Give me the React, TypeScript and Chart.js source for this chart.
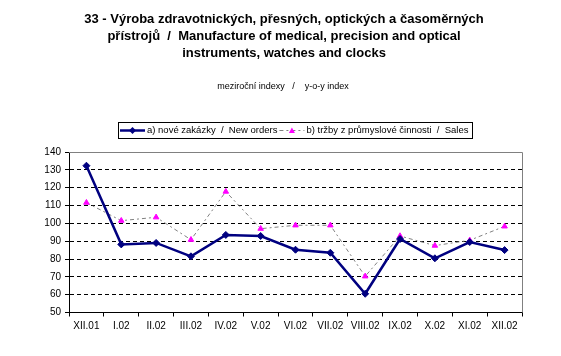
import React, { useEffect, useRef } from "react";
import { Chart, registerables } from "chart.js";

Chart.register(...registerables);

const categories = ["XII.01", "I.02", "II.02", "III.02", "IV.02", "V.02", "VI.02", "VII.02", "VIII.02", "IX.02", "X.02", "XI.02", "XII.02"];
const newOrders = [132.3, 88.2, 89.0, 81.5, 93.5, 92.9, 85.2, 83.5, 60.5, 91.2, 80.4, 89.5, 85.0];
const sales = [111.6, 101.5, 103.4, 90.8, 117.8, 97.0, 98.9, 98.9, 70.3, 92.9, 87.5, 90.5, 98.3];
const titleLines = [
  "33 - Výroba zdravotnických, přesných, optických a časoměrných",
  "přístrojů  /  Manufacture of medical, precision and optical",
  "instruments, watches and clocks",
];
const subtitleText = "meziroční indexy   /    y-o-y index";
const seriesLabels = ["a) nové zakázky  /  New orders", "b) tržby z průmyslové činnosti  /  Sales"];

const FONT = "'Liberation Sans', Arial, sans-serif";

const decorPlugin = {
  id: "decor",
  beforeDatasetsDraw(chart: any) {
    const { ctx, chartArea: a } = chart;
    ctx.save();
    ctx.strokeStyle = "#808080";
    ctx.lineWidth = 1;
    ctx.beginPath();
    ctx.moveTo(a.left, Math.round(a.top) + 0.5);
    ctx.lineTo(Math.round(a.right) + 0.5, Math.round(a.top) + 0.5);
    ctx.lineTo(Math.round(a.right) + 0.5, a.bottom);
    ctx.stroke();
    ctx.restore();
  },
  afterDraw(chart: any) {
    const { ctx, chartArea: a } = chart;
    ctx.save();
    // Title
    ctx.fillStyle = "#000";
    ctx.textAlign = "center";
    ctx.textBaseline = "middle";
    ctx.font = `bold 13px ${FONT}`;
    const cx = 284;
    titleLines.forEach((t, i) => ctx.fillText(t, cx, 19 + i * 17));
    ctx.font = `9px ${FONT}`;
    ctx.fillText(subtitleText, 283, 87);

    // Legend
    ctx.font = `9.5px ${FONT}`;
    ctx.textAlign = "left";
    const sampleW = 25;
    const w0 = ctx.measureText(seriesLabels[0]).width;
    const w1 = ctx.measureText(seriesLabels[1]).width;
    const total = 2 + sampleW + 2 + w0 + 2 + sampleW + 2 + w1 + 4;
    const left = Math.round((a.left + a.right) / 2 - total / 2);
    const top = 122;
    const h = 16;
    const midY = top + h / 2 + 0.5;
    ctx.strokeStyle = "#000";
    ctx.lineWidth = 1;
    ctx.strokeRect(left + 0.5, top + 0.5, Math.round(total), h);
    const ds = chart.data.datasets;
    let x = left + 2;
    // sample a
    ctx.strokeStyle = ds[0].borderColor;
    ctx.lineWidth = 2.5;
    ctx.setLineDash([]);
    ctx.beginPath();
    ctx.moveTo(x, midY);
    ctx.lineTo(x + sampleW, midY);
    ctx.stroke();
    ctx.fillStyle = ds[0].pointBackgroundColor;
    ctx.beginPath();
    const mx = x + sampleW / 2;
    ctx.moveTo(mx, midY - 3.5);
    ctx.lineTo(mx + 3.5, midY);
    ctx.lineTo(mx, midY + 3.5);
    ctx.lineTo(mx - 3.5, midY);
    ctx.closePath();
    ctx.fill();
    x += sampleW + 2;
    ctx.fillStyle = "#000";
    ctx.textBaseline = "middle";
    ctx.fillText(seriesLabels[0], x, midY);
    x += w0 + 2;
    // sample b
    ctx.strokeStyle = ds[1].borderColor;
    ctx.lineWidth = 1;
    ctx.setLineDash(ds[1].borderDash);
    ctx.beginPath();
    ctx.moveTo(x, midY);
    ctx.lineTo(x + sampleW, midY);
    ctx.stroke();
    ctx.setLineDash([]);
    ctx.fillStyle = ds[1].pointBackgroundColor;
    const mx2 = x + sampleW / 2;
    ctx.beginPath();
    ctx.moveTo(mx2, midY - 3);
    ctx.lineTo(mx2 + 3, midY + 2.5);
    ctx.lineTo(mx2 - 3, midY + 2.5);
    ctx.closePath();
    ctx.fill();
    x += sampleW + 2;
    ctx.fillStyle = "#000";
    ctx.fillText(seriesLabels[1], x, midY);
    ctx.restore();
  },
};

export default function App() {
  const ref = useRef<HTMLCanvasElement>(null);
  useEffect(() => {
    document.body.style.margin = "0";
    const chart = new Chart(ref.current!, {
      type: "line",
      data: {
        labels: categories,
        datasets: [
          {
            label: seriesLabels[0],
            data: newOrders,
            borderColor: "#000080",
            backgroundColor: "#000080",
            pointBackgroundColor: "#000080",
            pointBorderColor: "#000080",
            borderWidth: 2.5,
            pointStyle: "rectRot",
            pointRadius: 3.5,
            pointBorderWidth: 1,
            tension: 0,
          },
          {
            label: seriesLabels[1],
            data: sales,
            borderColor: "#808080",
            backgroundColor: "#FF00FF",
            pointBackgroundColor: "#FF00FF",
            pointBorderColor: "#FF00FF",
            borderWidth: 1,
            borderDash: [4, 3, 2, 3],
            pointStyle: "triangle",
            pointRadius: 3.2,
            pointBorderWidth: 1,
            tension: 0,
          },
        ],
      },
      options: {
        responsive: false,
        animation: false,
        layout: { padding: { top: 152, right: 39, left: 0, bottom: 0 } },
        plugins: {
          legend: { display: false },
          title: { display: false },
          tooltip: { enabled: false },
        },
        scales: {
          x: {
            offset: true,
            grid: {
              offset: true,
              drawOnChartArea: false,
              drawTicks: true,
              tickLength: 4,
              tickColor: "#000",
            },
            border: { color: "#000", width: 1 },
            ticks: {
              color: "#000",
              font: { family: FONT, size: 10 },
              maxRotation: 0,
              autoSkip: false,
              padding: 4,
            },
            afterFit: (s: any) => {
              s.height = 43.5;
            },
          },
          y: {
            min: 50,
            max: 140,
            ticks: {
              stepSize: 10,
              color: "#000",
              font: { family: FONT, size: 10 },
              padding: 4,
            },
            grid: {
              color: (c: any) =>
                c.tick && c.tick.value > 50 && c.tick.value < 140 ? "#000" : "rgba(0,0,0,0)",
              tickColor: "#000",
              tickLength: 4,
              lineWidth: 1,
            },
            border: { color: "#000", width: 1, dash: [4, 3] },
            afterFit: (s: any) => {
              s.width = 69;
            },
          },
        },
      },
      plugins: [decorPlugin],
    });
    return () => chart.destroy();
  }, []);
  return (
    <div style={{ position: "absolute", left: 0, top: 0, width: 561, height: 356, background: "#fff" }}>
      <canvas ref={ref} width={561} height={356} style={{ width: 561, height: 356 }} />
    </div>
  );
}
